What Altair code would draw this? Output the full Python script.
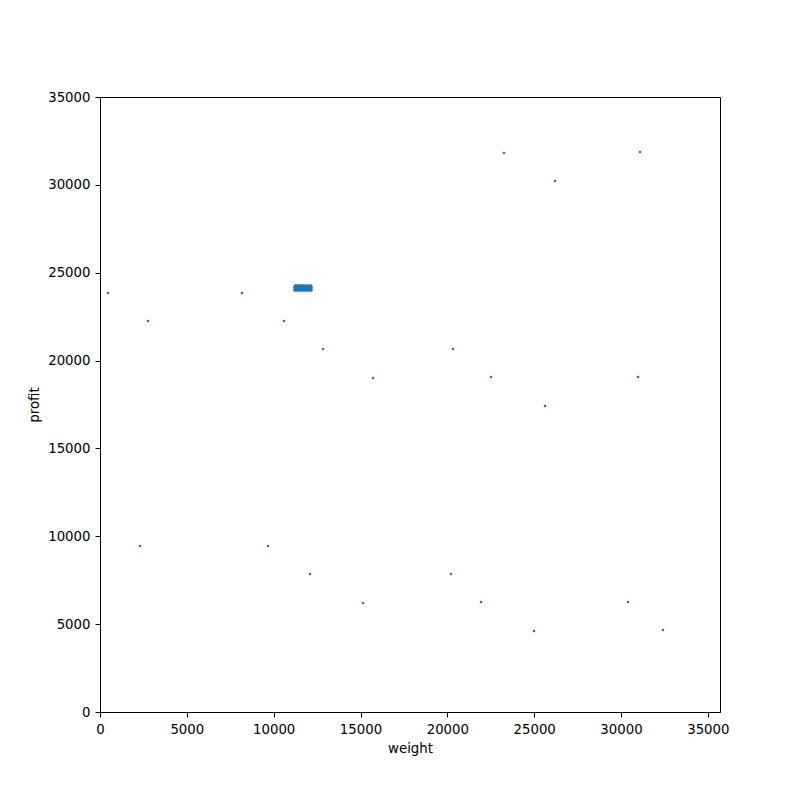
import altair as alt
import pandas as pd

# scattered items (weight, profit)
weights = [23262, 31094, 26199, 461, 8176, 2764, 10595, 12840, 20326, 15720,
           22514, 30978, 25623, 2303, 9673, 12092, 20210, 15143, 21938, 30402,
           24990, 32418]
profits = [31813, 31870, 30220, 23846, 23846, 22252, 22252, 20658, 20658, 19008,
           19065, 19065, 17415, 9447, 9447, 7854, 7854, 6203, 6260, 6260,
           4610, 4667]

# dense cluster around (11200-12180, 24000-24270)
cluster_weights = [11205, 11262, 11318, 11384, 11441, 11503, 11566, 11622, 11689, 11747, 11812, 11874, 11935, 11998, 12061, 12122, 12176,
                   11214, 11275, 11333, 11397, 11452, 11519, 11578, 11640, 11701, 11763, 11826, 11888, 11951, 12013, 12077, 12139, 12170,
                   11208, 11268, 11327, 11390, 11448, 11510, 11571, 11633, 11694, 11756, 11818, 11881, 11943, 12006, 12069, 12131, 12178,
                   11220, 11281, 11345, 11409, 11466, 11528, 11592, 11655, 11716, 11779, 11840, 11902, 11964, 12027, 12090, 12152]
cluster_profits = [23995, 24005, 23990, 24010, 23998, 24002, 23992, 24008, 23996, 24004, 23994, 24006, 23999, 24001, 23993, 24007, 23997,
                   24080, 24090, 24075, 24095, 24085, 24078, 24092, 24082, 24088, 24076, 24094, 24081, 24087, 24079, 24093, 24084, 24086,
                   24170, 24180, 24165, 24185, 24172, 24178, 24168, 24182, 24174, 24176, 24166, 24184, 24171, 24179, 24169, 24181, 24175,
                   24255, 24265, 24250, 24268, 24258, 24262, 24252, 24266, 24256, 24260, 24254, 24264, 24257, 24261, 24253, 24267]

x_ticks = [0, 5000, 10000, 15000, 20000, 25000, 30000, 35000]
y_ticks = [0, 5000, 10000, 15000, 20000, 25000, 30000, 35000]

df = pd.DataFrame({
    "weight": weights + cluster_weights,
    "profit": profits + cluster_profits,
})

font = "DejaVu Sans"

common_axis = dict(grid=False, format="d",
                   domainColor="black", tickColor="black", tickSize=5,
                   labelColor="black", labelFontSize=13.3, labelFont=font,
                   titleFont=font, titleFontSize=13.3,
                   titleFontWeight="normal", titleColor="black",
                   labelFlush=False, labelOverlap=False)

chart = alt.Chart(df).mark_circle(size=7, color="#1f77b4", opacity=1).encode(
    x=alt.X("weight:Q",
            scale=alt.Scale(domain=[0, 35700], nice=False, zero=False),
            axis=alt.Axis(values=x_ticks, title="weight", labelPadding=5,
                          titlePadding=6, **common_axis)),
    y=alt.Y("profit:Q",
            scale=alt.Scale(domain=[0, 35000], nice=False, zero=False),
            axis=alt.Axis(values=y_ticks, title="profit", labelPadding=5,
                          titlePadding=6, **common_axis)),
).properties(
    width=620,
    height=615,
    background="white",
    autosize=alt.AutoSizeParams(type="none"),
    padding={"left": 92, "top": 89, "right": 72, "bottom": 80},
).configure_view(
    stroke="black", strokeWidth=1
)

chart.save("out.html", embed_options={"renderer": "svg", "actions": False})
